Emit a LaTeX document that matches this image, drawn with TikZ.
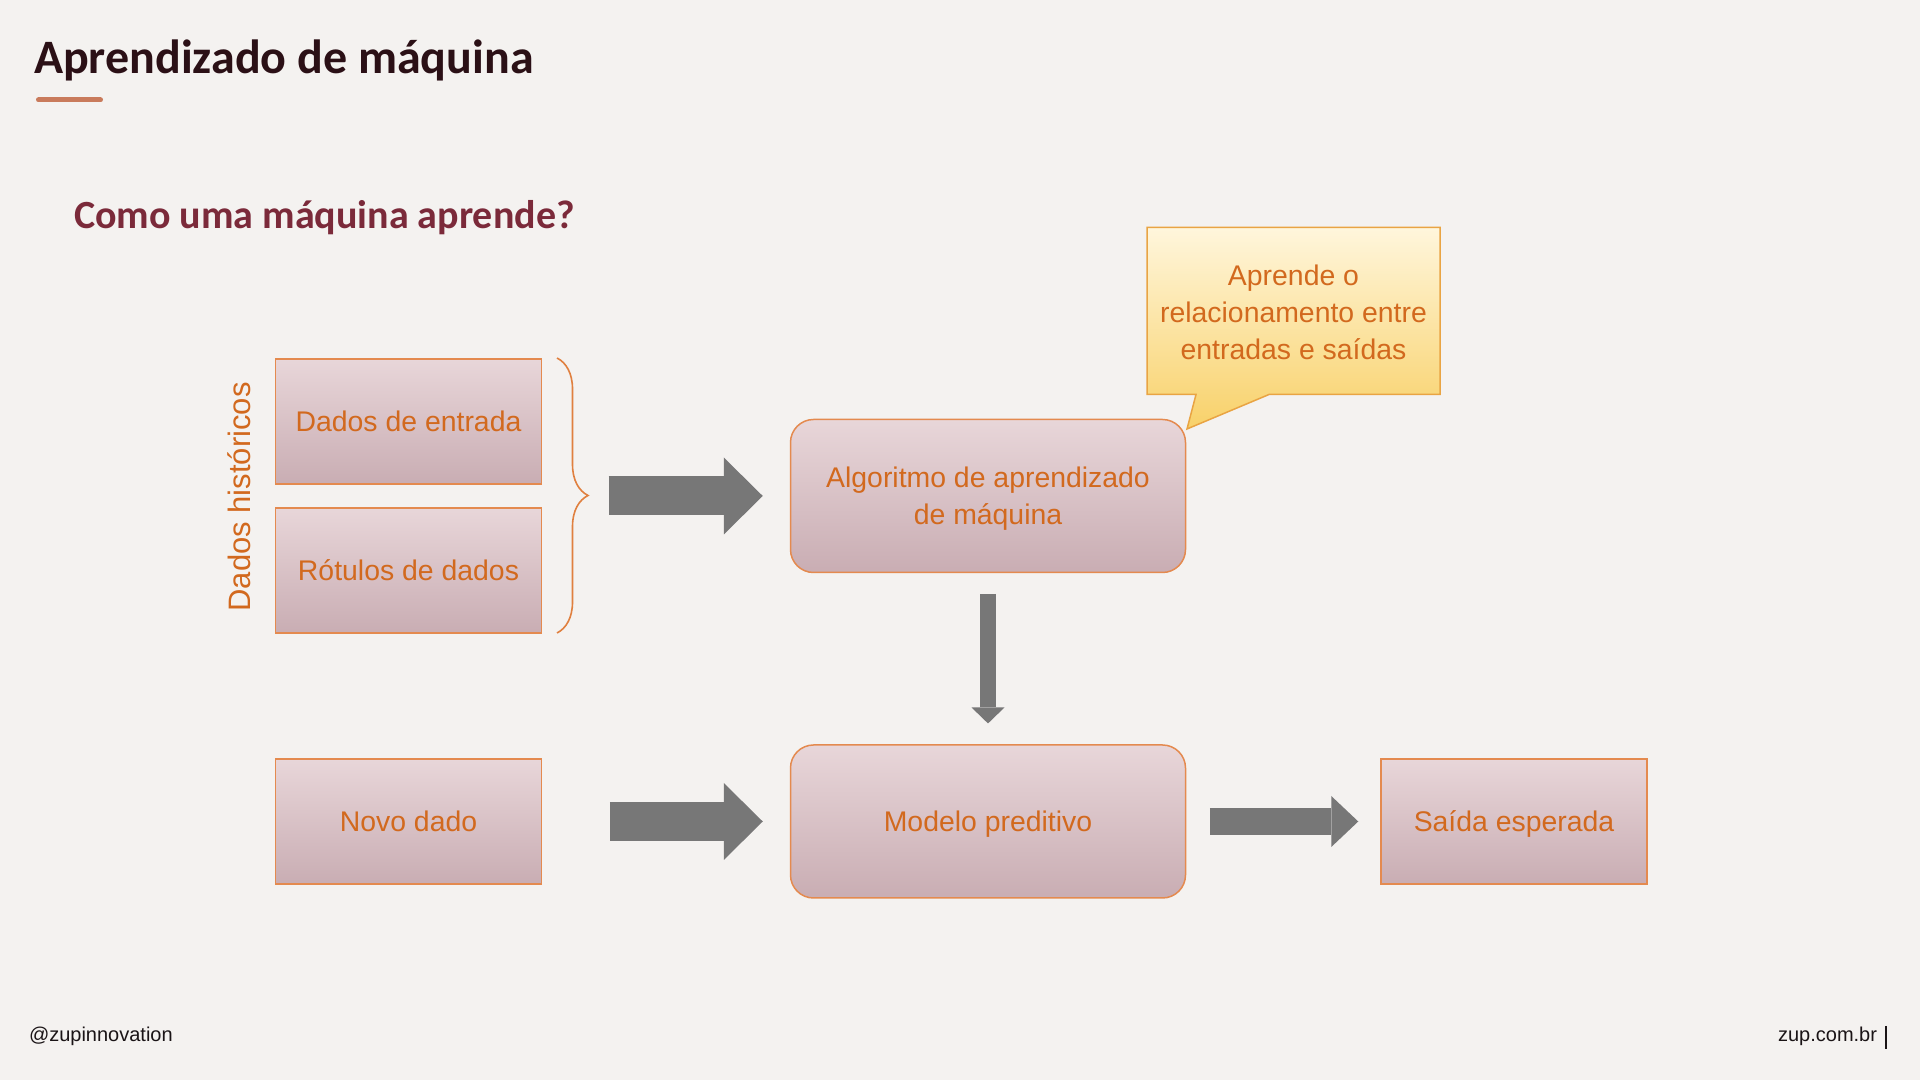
\documentclass[tikz,border=0pt]{standalone}
\usepackage{fontspec}
\setmainfont{Liberation Sans}
\newfontfamily\titlefont{Carlito}
\usetikzlibrary{arrows.meta,decorations.pathreplacing,calc}
\definecolor{bg}{HTML}{F4F2F0}
\definecolor{titlec}{HTML}{2B1016}
\definecolor{subc}{HTML}{7B2A3A}
\definecolor{barc}{HTML}{C97B5C}
\definecolor{boxtop}{HTML}{E8D6D9}
\definecolor{boxbot}{HTML}{C9ADB3}
\definecolor{boxline}{HTML}{E48A4F}
\definecolor{txt}{HTML}{D2691E}
\definecolor{arrowgray}{HTML}{777777}
\definecolor{calltop}{HTML}{FFF6DC}
\definecolor{callbot}{HTML}{F8D169}
\definecolor{callline}{HTML}{E9A443}
\definecolor{bracec}{HTML}{E0803F}
\definecolor{foot}{HTML}{1A1416}
\tikzset{
  box/.style={draw=boxline, line width=0.75pt, top color=boxtop, bottom color=boxbot,
    text=txt, font=\fontsize{14.2}{18.5}\selectfont, align=center, text depth=0pt,
    minimum width=133pt, minimum height=62.5pt, inner sep=0pt},
  rbox/.style={box, rounded corners=11.5pt, minimum width=197.5pt, minimum height=76.5pt},
  bigarrow/.style={draw=arrowgray, line width=19.5pt,
    -{Triangle[width=38.5pt,length=19.5pt,line width=0pt]}},
  midarrow/.style={draw=arrowgray, line width=13.5pt,
    -{Triangle[width=25.5pt,length=13.5pt,line width=0pt]}},
  smallarrow/.style={draw=arrowgray, line width=8pt,
    -{Triangle[width=16.5pt,length=8pt,line width=0pt]}},
  plain/.style={inner sep=0pt, outer sep=0pt}
}
\begin{document}
\begin{tikzpicture}[x=0.5pt,y=0.5pt]
\useasboundingbox (0,0) rectangle (1920,1080);
\fill[bg] (0,0) rectangle (1920,1080);

% title
\node[plain, anchor=base west, text=titlec, font=\titlefont\bfseries\fontsize{24}{28}\selectfont] (title) at (34,1006.5) {Aprendizado de máquina};
\draw[barc, line width=2.5pt, line cap=round] (38.5,980) -- (100.5,980);
\node[plain, anchor=base west, text=subc, font=\titlefont\bfseries\fontsize{20}{24}\selectfont] (sub) at (74,851) {Como uma máquina aprende?};

% boxes
\node[box] (de) at (408.5,658.5) {Dados de entrada};
\node[box] (rd) at (408.5,509.5) {Rótulos de dados};
\node[box] (nd) at (408.5,258.5) {Novo dado};
\node[box] (se) at (1514,258.5) {Saída esperada};
\node[rbox] (algo) at (988,584) {Algoritmo de aprendizado\\de máquina};
\node[rbox] (mp) at (988,258.5) {Modelo preditivo};

% side label
\node[plain, rotate=90, text=txt, font=\fontsize{15.5}{18}\selectfont] (hist) at (239.5,583) {Dados históricos};

% brace
\draw[bracec, line width=0.8pt, decorate, decoration={brace, amplitude=15.5pt}] (557,722) -- (557,447);
\coordinate (bt) at (589,584);

% callout
\shade[top color=calltop, bottom color=callbot, draw=callline, line width=0.75pt]
  (1147,852.5) -- (1440,852.5) -- (1440,685.5) -- (1269,685.5) -- (1187,651) -- (1196,685.5) -- (1147,685.5) -- cycle;
\node[plain, text=txt, align=center, font=\fontsize{14.2}{18.5}\selectfont] (call) at (1293.5,767.5) {Aprende o\\relacionamento entre\\entradas e saídas};

% arrows
\draw[bigarrow, shorten <=9.75pt, shorten >=13.5pt] (bt) -- (algo.west);
\draw[bigarrow, shorten <=33.75pt, shorten >=13.5pt] (nd.east) -- (mp.west);
\draw[midarrow, shorten <=11.8pt, shorten >=11pt] (mp.east) -- (se.west);
\draw[smallarrow, shorten <=10.3pt, shorten >=10.4pt] (algo.south) -- (mp.north);

% footer
\node[plain, anchor=base west, text=foot, font=\fontsize{10}{12}\selectfont] (fl) at (29,38) {@zupinnovation};
\node[plain, anchor=base east, text=foot, font=\fontsize{10}{12}\selectfont] (fr) at (1877,38) {zup.com.br};
\draw[foot, line width=1.2pt] (1886,54) -- (1886,31);
\end{tikzpicture}
\end{document}
